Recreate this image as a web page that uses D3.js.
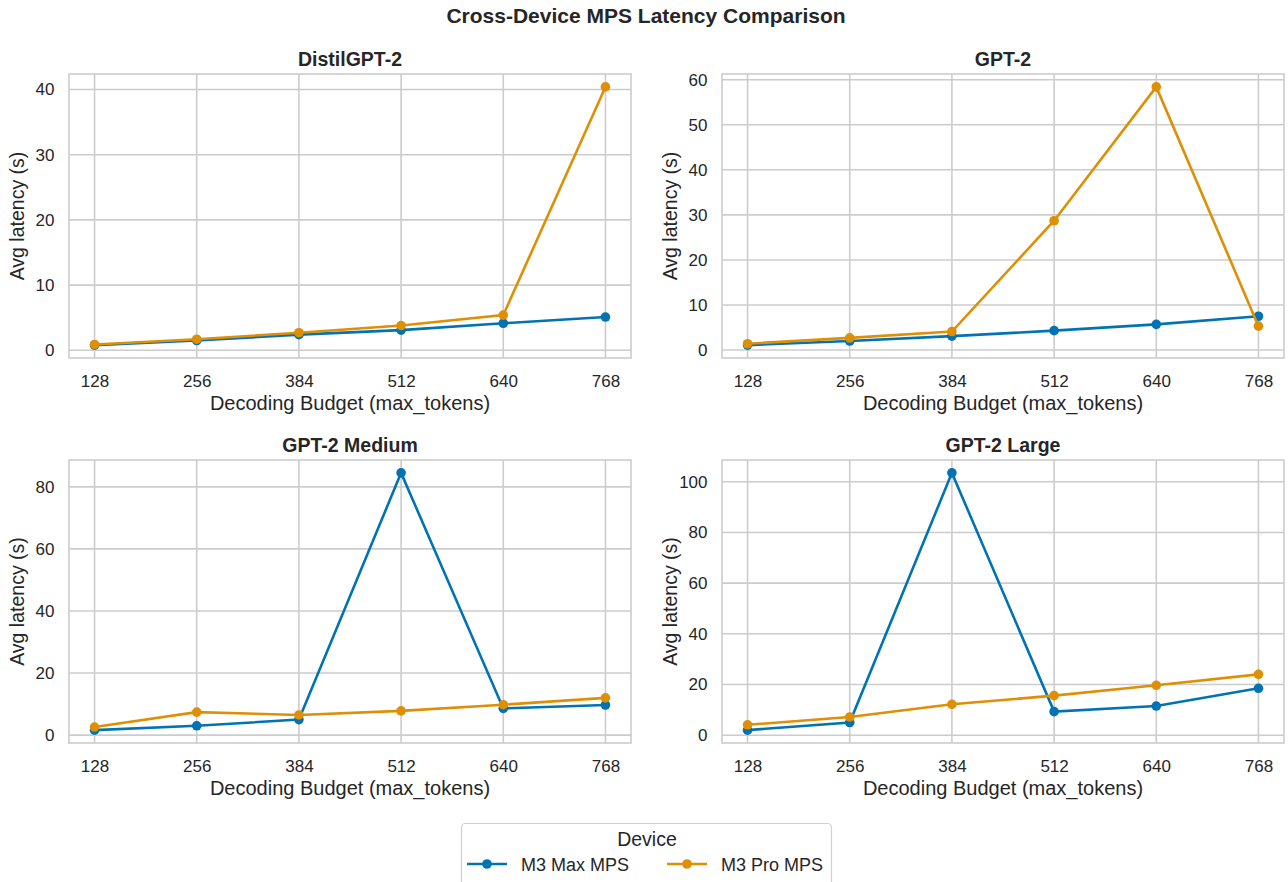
<!DOCTYPE html>
<html><head><meta charset="utf-8">
<script src="https://cdn.jsdelivr.net/npm/d3@7"></script>
<style>body{margin:0;background:#fff}svg{display:block}text{font-family:"Liberation Sans",Arial,sans-serif;fill:#262626}</style>
</head><body><svg id="c" width="1288" height="882"></svg>
<script>
const budgets = [128, 256, 384, 512, 640, 768];
const models = ["DistilGPT-2", "GPT-2", "GPT-2 Medium", "GPT-2 Large"];
const devices = ["M3 Max MPS", "M3 Pro MPS"];
const maxMPS = [
  [0.8, 1.5, 2.4, 3.1, 4.15, 5.1],
  [1.1, 2.0, 3.1, 4.3, 5.7, 7.5],
  [1.6, 3.0, 5.0, 84.5, 8.6, 9.7],
  [2.0, 5.0, 103.5, 9.3, 11.5, 18.5]
];
const proMPS = [
  [0.9, 1.7, 2.7, 3.8, 5.4, 40.4],
  [1.4, 2.7, 4.1, 28.7, 58.4, 5.3],
  [2.6, 7.4, 6.5, 7.8, 9.8, 12.0],
  [4.1, 7.2, 12.2, 15.6, 19.7, 24.0]
];
const yTicks = [[0,10,20,30,40],[0,10,20,30,40,50,60],[0,20,40,60,80],[0,20,40,60,80,100]];
const colors = ["#0173b2", "#de8f05"];

const svg = d3.select("#c");
svg.append("text").attr("x", 646).attr("y", 22.5).attr("text-anchor","middle")
  .attr("font-size", 21).attr("font-weight","bold").text("Cross-Device MPS Latency Comparison");

const panels = [
  {x0:69, x1:631, y0:74, y1:358},
  {x0:722, x1:1284, y0:74, y1:358},
  {x0:69, x1:631, y0:460, y1:743},
  {x0:722, x1:1284, y0:460, y1:743}
];

models.forEach((m, i) => {
  const p = panels[i];
  const series = [maxMPS[i], proMPS[i]];
  const all = series.flat();
  const mn = d3.min(all), mx = d3.max(all), pad = (mx - mn) * 0.05;
  const x = d3.scaleLinear().domain([128 - 32, 768 + 32]).range([p.x0, p.x1]);
  const y = d3.scaleLinear().domain([mn - pad, mx + pad]).range([p.y1, p.y0]);
  const g = svg.append("g");
  // grid
  g.append("g").selectAll("line").data(budgets).join("line")
    .attr("x1", d => x(d)).attr("x2", d => x(d)).attr("y1", p.y0).attr("y2", p.y1)
    .attr("stroke", "#cccccc").attr("stroke-width", 1.6);
  g.append("g").selectAll("line").data(yTicks[i]).join("line")
    .attr("y1", d => y(d)).attr("y2", d => y(d)).attr("x1", p.x0).attr("x2", p.x1)
    .attr("stroke", "#cccccc").attr("stroke-width", 1.6);
  g.append("rect").attr("x", p.x0).attr("y", p.y0).attr("width", p.x1 - p.x0).attr("height", p.y1 - p.y0)
    .attr("fill", "none").attr("stroke", "#cccccc").attr("stroke-width", 1.6);
  // axes
  const xa = g.append("g").attr("transform", `translate(0,${p.y1})`)
    .call(d3.axisBottom(x).tickValues(budgets).tickSize(0).tickPadding(16.5));
  const ya = g.append("g").attr("transform", `translate(${p.x0},0)`)
    .call(d3.axisLeft(y).tickValues(yTicks[i]).tickSize(0).tickPadding(14.5));
  [xa, ya].forEach(a => {
    a.select(".domain").remove();
    a.selectAll("text").attr("font-size", 17).attr("fill", "#262626")
      .style("font-family", '"Liberation Sans",Arial,sans-serif');
  });
  xa.selectAll("text").attr("dy", "0.71em");
  // labels
  g.append("text").attr("x", (p.x0 + p.x1) / 2).attr("y", p.y0 - 8).attr("text-anchor","middle")
    .attr("font-size", 19.5).attr("font-weight","bold").text(m);
  g.append("text").attr("x", (p.x0 + p.x1) / 2).attr("y", p.y1 + 52).attr("text-anchor","middle")
    .attr("font-size", 20).text("Decoding Budget (max_tokens)");
  g.append("text").attr("transform", `translate(${p.x0 - 45},${(p.y0 + p.y1) / 2}) rotate(-90)`)
    .attr("text-anchor","middle").attr("font-size", 19.5).text("Avg latency (s)");
  // lines
  series.forEach((s, k) => {
    const line = d3.line().x((d, j) => x(budgets[j])).y(d => y(d));
    g.append("path").datum(s).attr("d", line).attr("fill","none")
      .attr("stroke", colors[k]).attr("stroke-width", 2.6);
    g.append("g").selectAll("circle").data(s).join("circle")
      .attr("cx", (d, j) => x(budgets[j])).attr("cy", d => y(d)).attr("r", 4.8)
      .attr("fill", colors[k]);
  });
});

// legend
const lg = svg.append("g");
lg.append("rect").attr("x", 461.5).attr("y", 823.5).attr("width", 370).attr("height", 62).attr("rx", 4)
  .attr("fill", "#fff").attr("stroke", "#d0d0d0").attr("stroke-width", 1.2);
lg.append("text").attr("x", 647).attr("y", 845.5).attr("text-anchor","middle").attr("font-size", 19.5).text("Device");
const lx = [467, 667];
devices.forEach((d, k) => {
  lg.append("line").attr("x1", lx[k]).attr("x2", lx[k] + 40).attr("y1", 864).attr("y2", 864)
    .attr("stroke", colors[k]).attr("stroke-width", 2.6);
  lg.append("circle").attr("cx", lx[k] + 20).attr("cy", 864).attr("r", 4.8).attr("fill", colors[k]);
  lg.append("text").attr("x", lx[k] + 54).attr("y", 871).attr("font-size", 18).text(d);
});
</script></body></html>
